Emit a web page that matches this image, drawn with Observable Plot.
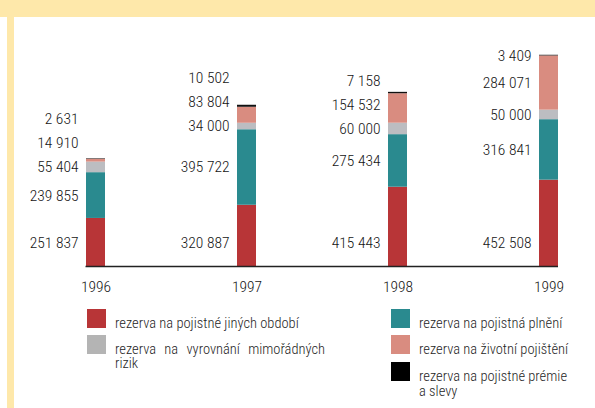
<!DOCTYPE html>
<html>
<head>
<meta charset="utf-8">
<script src="https://cdn.jsdelivr.net/npm/d3@7"></script>
<script src="https://cdn.jsdelivr.net/npm/@observablehq/plot@0.6"></script>
<style>
  html, body { margin: 0; padding: 0; background: #ffffff; }
  #page { position: relative; width: 595px; height: 408px; overflow: hidden; background: #ffffff;
    font-family: "Roboto Condensed", "Liberation Sans Narrow", "DejaVu Sans Condensed", sans-serif; font-stretch: condensed; }
  .band { position: absolute; background: #fee8aa; }
  #chart { position: absolute; left: 0; top: 0; }
  .sw { position: absolute; width: 19px; height: 19px; }
  .lt { position: absolute; font-size: 14.5px; line-height: 15px; color: #1e1e1e; white-space: nowrap; font-weight: 300; }
  .just { display: block; text-align: justify; text-align-last: justify; width: 210px; height: 14px; }
</style>
</head>
<body>
<div id="page">
  <div class="band" style="left:0;top:0;width:595px;height:17px;"></div>
  <div class="band" style="left:7px;top:0;width:7px;height:408px;"></div>
  <div id="chart"></div>
  <div id="legend"></div>
</div>
<script>
// ---- data ----
const years = ["1996", "1997", "1998", "1999"];
const seriesNames = [
  "rezerva na pojistné jiných období",
  "rezerva na pojistná plnění",
  "rezerva na vyrovnání mimořádných rizik",
  "rezerva na životní pojištění",
  "rezerva na pojistné prémie a slevy"
];
const jinychObdobi = [251837, 320887, 415443, 452508];
const pojistnaPlneni = [239855, 395722, 275434, 316841];
const vyrovnaniRizik = [55404, 34000, 60000, 50000];
const zivotniPojisteni = [14910, 83804, 154532, 284071];
const premieSlevy = [2631, 10502, 7158, 3409];
const seriesColors = ["#b83537", "#2a8a8f", "#bcbdc1", "#d98c80", "#111111"];

const seriesValues = [jinychObdobi, pojistnaPlneni, vyrovnaniRizik, zivotniPojisteni, premieSlevy];

// ---- layout ----
const W = 595, H = 300, MT = 37, MB = 34, ML = 85.5, MR = 37;
const yMax = 1200000;
const k = (H - MT - MB) / yMax; // px per unit

const rows = [];
years.forEach((yr, i) => {
  seriesNames.forEach((s, j) => rows.push({year: yr, series: s, value: seriesValues[j][i]}));
});

// label positions: near segment middles, dodged upward so they don't overlap
const labels = [];
years.forEach((yr, i) => {
  let cum = 0, prev = null;
  seriesNames.forEach((s, j) => {
    const v = seriesValues[j][i];
    const mid = cum + v / 2;
    const pos = j === 0 ? 23 / k : Math.max(mid, prev + 24 / k);
    labels.push({year: yr, value: v, pos});
    cum += v;
    prev = pos;
  });
});

const fmt = v => d3.format(",")(v).replace(/,/g, " ");

const plot = Plot.plot({
  width: W,
  height: H,
  marginTop: MT,
  marginBottom: MB,
  marginLeft: ML,
  marginRight: MR,
  style: {
    fontFamily: '"Roboto Condensed", "Liberation Sans Narrow", "DejaVu Sans Condensed", sans-serif',
    fontStretch: "condensed",
    fontWeight: 300,
    background: "transparent",
    color: "#1a1a1a",
    overflow: "visible"
  },
  x: {type: "band", domain: years, paddingInner: 0.874, paddingOuter: 0, axis: null},
  y: {domain: [0, yMax], axis: null},
  color: {domain: seriesNames, range: seriesColors},
  marks: [
    Plot.barY(rows, {x: "year", y: "value", fill: "series"}),
    Plot.ruleY([0], {stroke: "#222222", strokeWidth: 1.3}),
    Plot.text(labels, {x: "year", y: "pos", text: d => fmt(d.value), textAnchor: "end", dx: -17.5, fontSize: 15.5, fill: "#151515"}),
    Plot.axisX({tickSize: 0, tickPadding: 14, fontSize: 15.5, fill: "#151515", label: null})
  ]
});
document.getElementById("chart").appendChild(plot);

// ---- legend ----
const legendPos = [
  {x: 87, y: 309}, {x: 391, y: 309},
  {x: 87, y: 335}, {x: 391, y: 335},
  {x: 391, y: 362}
];
const legendOrder = [0, 1, 2, 3, 4];
const legendHtml = [];
legendOrder.forEach((j, n) => {
  const p = legendPos[n];
  legendHtml.push(`<div class="sw" style="left:${p.x}px;top:${p.y}px;background:${j === 2 ? "#b4b4b4" : (j === 4 ? "#000000" : seriesColors[j])}"></div>`);
  let txt = seriesNames[j];
  if (j === 2) txt = `<span class="just">rezerva na vyrovnání mimořádných</span>rizik`;
  if (j === 4) txt = `rezerva na pojistné prémie<br>a slevy`;
  legendHtml.push(`<div class="lt" style="left:${p.x + 28}px;top:${p.y + 6.5}px">${txt}</div>`);
});
document.getElementById("legend").innerHTML = legendHtml.join("");
</script>
</body>
</html>
